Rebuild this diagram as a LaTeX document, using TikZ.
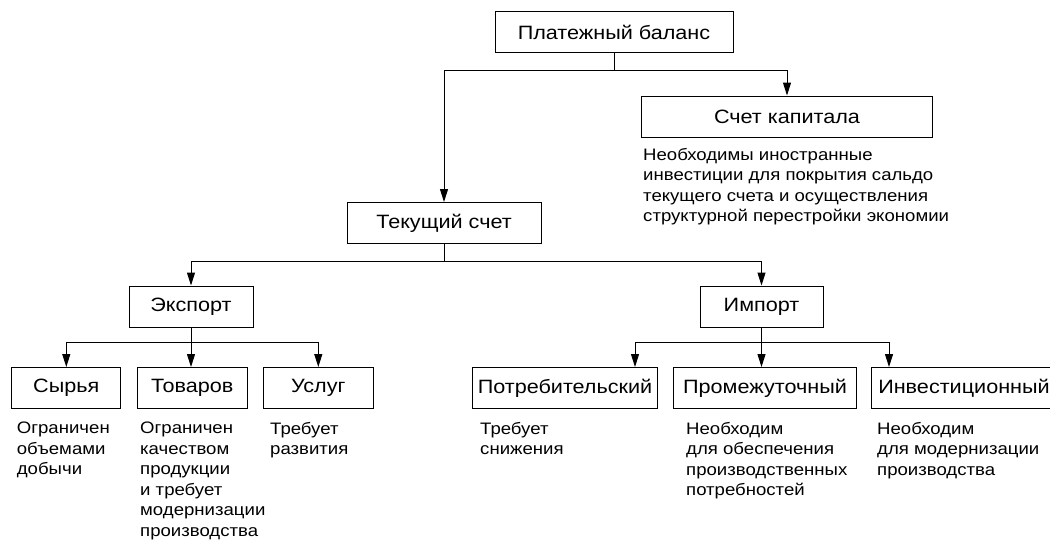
\documentclass[tikz,border=0pt]{standalone}
\usepackage{fontspec}
\setmainfont[FakeStretch=1.12]{Liberation Sans}
\usetikzlibrary{arrows.meta}

\begin{document}
\begin{tikzpicture}[x=1pt, y=-1pt,
  box/.style = {draw, line width=1pt, inner sep=0pt, minimum height=41pt,
                font=\fontsize{19.3}{22}\selectfont},
  note/.style = {anchor=north west, align=left, inner sep=0pt,
                 font=\fontsize{16.6}{20.5}\selectfont},
  arr/.style = {line width=1pt, -{Triangle[length=13pt, width=8pt]}}]
\useasboundingbox (0,0) rectangle (1050,542);
\path (614,32) node[box, minimum width=238pt] (pb) {Платежный баланс};
\path (787,116.5) node[box, minimum width=291pt] (sk) {Счет капитала};
\path (444,223) node[box, minimum width=194pt] (tc) {Текущий счет};
\path (191,306.5) node[box, minimum width=124pt] (exp) {Экспорт};
\path (761.5,306.5) node[box, minimum width=123pt] (imp) {Импорт};
\path (66.3,388) node[box, minimum width=109pt] (syr) {Сырья};
\path (192.3,388) node[box, minimum width=110pt] (tov) {Товаров};
\path (318.3,388) node[box, minimum width=110pt] (usl) {Услуг};
\path (565,388) node[box, minimum width=185pt] (potr) {Потребительский};
\path (765,388) node[box, minimum width=183pt] (prom) {Промежуточный};
\path (964,388) node[box, minimum width=185pt] (inv) {Инвестиционный};
\path (643,148) node[note] (skn) {Необходимы иностранные\\инвестиции для покрытия сальдо\\текущего счета и осуществления\\структурной перестройки экономии};
\path (16.7,422) node[note] (syrn) {Ограничен\\объемами\\добычи};
\path (140,422) node[note] (tovn) {Ограничен\\качеством\\продукции\\и требует\\модернизации\\производства};
\path (270,422) node[note] (usln) {Требует\\развития};
\path (480,422) node[note] (potrn) {Требует\\снижения};
\path (686,422) node[note] (promn) {Необходим\\для обеспечения\\производственных\\потребностей};
\path (877,422) node[note] (invn) {Необходим\\для модернизации\\производства};
\draw[arr] (pb.south) -- ++(0,17) -| (tc.north);
\draw[arr] (pb.south) -- ++(0,17) -| (sk.north);
\draw[arr] (tc.south) -- ++(0,17) -| (exp.north);
\draw[arr] (tc.south) -- ++(0,17) -| (imp.north);
\draw[arr] (exp.south) -- ++(0,15) -| (syr.north);
\draw[arr] (exp.south) -- (exp.south |- tov.north);
\draw[arr] (exp.south) -- ++(0,15) -| (usl.north);
\draw[arr] (imp.south) -- ++(0,15) -| ([xshift=70pt]potr.north);
\draw[arr] (imp.south) -- (imp.south |- prom.north);
\draw[arr] (imp.south) -- ++(0,15) -| ([xshift=-75pt]inv.north);
\end{tikzpicture}
\end{document}
